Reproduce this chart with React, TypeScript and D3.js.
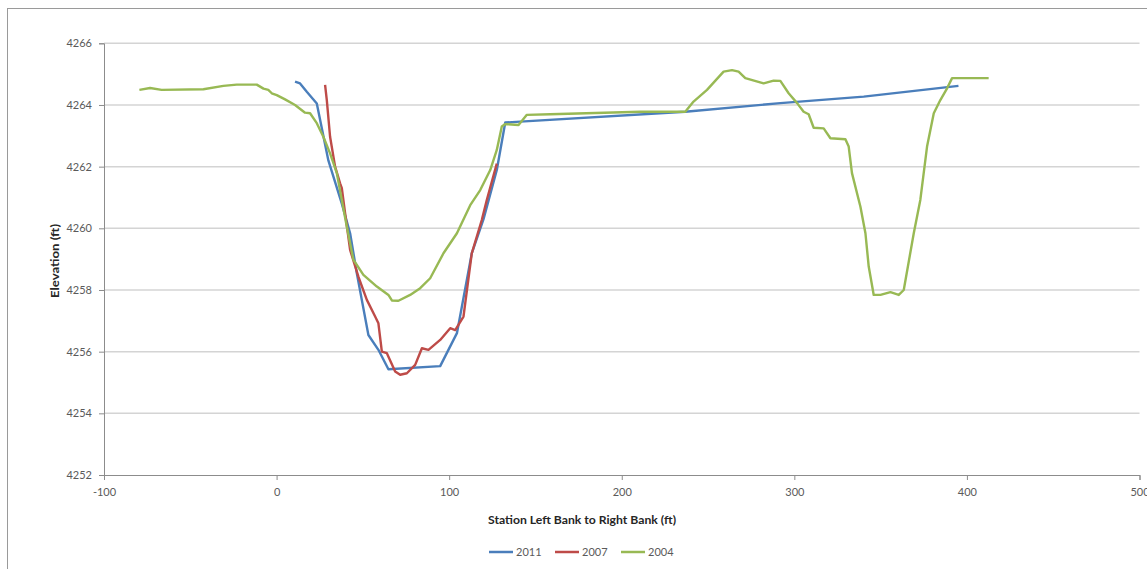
import React, { useEffect, useRef } from 'react';
import * as d3 from 'd3';

// station (ft) and elevation (ft)
const station2011 = [10.7, 13.6, 17.5, 23.3, 30.0, 37.8, 42.6, 46.5, 53.2, 59.0, 64.8, 94.8, 104.5, 113.1, 119.9, 127.6, 132.5, 141.2, 236.8, 291.9, 340.2, 395.1];
const elev2011 = [4264.76, 4264.7, 4264.43, 4264.05, 4262.2, 4260.8, 4259.84, 4258.54, 4256.54, 4256.06, 4255.43, 4255.53, 4256.6, 4259.19, 4260.3, 4261.89, 4263.43, 4263.46, 4263.78, 4264.06, 4264.27, 4264.62];

const station2007 = [28.1, 29.1, 31.0, 33.9, 36.8, 37.8, 39.7, 42.6, 47.4, 52.3, 57.1, 59.0, 61.0, 63.9, 68.7, 71.6, 75.5, 80.3, 84.2, 88.0, 94.8, 100.6, 103.5, 108.3, 113.1, 118.9, 121.8, 127.6];
const elev2007 = [4264.65, 4264.16, 4262.97, 4262.0, 4261.46, 4261.3, 4260.49, 4259.3, 4258.43, 4257.68, 4257.14, 4256.92, 4256.0, 4255.95, 4255.36, 4255.25, 4255.3, 4255.57, 4256.11, 4256.06, 4256.38, 4256.76, 4256.7, 4257.14, 4259.19, 4260.27, 4260.92, 4262.1];

const station2004 = [-79.5, -73.3, -66.6, -42.4, -30.8, -23.1, -11.5, -7.6, -4.8, -2.8, 0.1, 4.9, 10.7, 16.5, 19.4, 23.3, 27.1, 31.0, 34.9, 37.8, 40.7, 44.5, 50.3, 58.1, 64.8, 66.8, 70.6, 77.4, 83.2, 89.0, 96.7, 104.5, 112.2, 118.0, 123.8, 127.6, 130.5, 132.5, 140.2, 145.0, 158.6, 210.7, 236.8, 241.6, 249.4, 259.0, 263.9, 267.7, 271.6, 282.2, 288.0, 291.9, 296.7, 301.6, 305.4, 308.3, 311.2, 317.0, 320.9, 329.6, 331.5, 333.4, 338.3, 341.2, 343.1, 346.0, 349.9, 355.7, 360.5, 363.4, 369.2, 373.0, 376.9, 380.8, 384.6, 388.5, 391.4, 412.6];
const elev2004 = [4264.49, 4264.55, 4264.49, 4264.51, 4264.62, 4264.66, 4264.66, 4264.53, 4264.49, 4264.38, 4264.32, 4264.18, 4264.0, 4263.75, 4263.73, 4263.41, 4262.97, 4262.43, 4261.79, 4260.92, 4260.05, 4258.98, 4258.49, 4258.11, 4257.84, 4257.66, 4257.65, 4257.84, 4258.06, 4258.38, 4259.19, 4259.84, 4260.75, 4261.24, 4261.89, 4262.54, 4263.3, 4263.38, 4263.35, 4263.68, 4263.7, 4263.78, 4263.78, 4264.11, 4264.49, 4265.08, 4265.13, 4265.08, 4264.87, 4264.7, 4264.79, 4264.78, 4264.38, 4264.06, 4263.78, 4263.7, 4263.26, 4263.24, 4262.92, 4262.89, 4262.65, 4261.79, 4260.7, 4259.84, 4258.76, 4257.84, 4257.84, 4257.93, 4257.84, 4258.0, 4259.84, 4260.92, 4262.65, 4263.73, 4264.16, 4264.54, 4264.87, 4264.87];

const seriesNames = ['2011', '2007', '2004'];
const xTicks = [-100, 0, 100, 200, 300, 400, 500];
const yTicks = [4252, 4254, 4256, 4258, 4260, 4262, 4264, 4266];

const App = () => {
  const chartRef = useRef<SVGSVGElement>(null);

  useEffect(() => {
    const width = 1147;
    const height = 569;
    const left = 104;
    const right = 1139.5;
    const top = 43.3;
    const bottom = 475;
    const font = 'Lato, "Open Sans", sans-serif';

    const svg = d3.select(chartRef.current);
    svg.selectAll('*').remove();
    svg.attr('width', width).attr('height', height);

    svg.append('rect').attr('width', width).attr('height', height).attr('fill', '#fff');
    // chart area border (runs off the right and bottom edges)
    svg.append('rect')
      .attr('x', 7.5).attr('y', 8.5)
      .attr('width', 1200).attr('height', 600)
      .attr('fill', 'none').attr('stroke', '#9a9a9a').attr('stroke-width', 1);

    const x = d3.scaleLinear().domain([-100, 500]).range([left, right]);
    const y = d3.scaleLinear().domain([4252, 4266]).range([bottom, top]);

    const colors = d3.scaleOrdinal<string, string>().domain(seriesNames).range(['#4A7EBB', '#BE4B48', '#98B954']);

    // gridlines
    svg.append('g')
      .selectAll('line')
      .data(yTicks.slice(1))
      .enter()
      .append('line')
      .attr('x1', left).attr('x2', right)
      .attr('y1', d => y(d)).attr('y2', d => y(d))
      .attr('stroke', '#d4d4d4').attr('stroke-width', 1.5);

    // y axis
    const yAxis = svg.append('g')
      .attr('transform', `translate(${left},0)`)
      .call(d3.axisLeft(y).tickValues(yTicks).tickSize(5).tickPadding(7).tickFormat(d => String(d)));
    yAxis.select('.domain').attr('stroke', '#8c8c8c');
    yAxis.selectAll('.tick line').attr('stroke', '#8c8c8c');
    yAxis.selectAll('.tick text')
      .attr('font-family', font).attr('font-size', 11).attr('fill', '#5a5a5a');

    // x axis (plain hyphen for the negative label, as in the original)
    const xAxis = svg.append('g')
      .attr('transform', `translate(0,${bottom})`)
      .call(d3.axisBottom(x).tickValues(xTicks).tickSize(5).tickPadding(8).tickFormat(d => String(d)));
    xAxis.select('.domain').attr('stroke', '#8c8c8c');
    xAxis.selectAll('.tick line').attr('stroke', '#8c8c8c');
    xAxis.selectAll('.tick text')
      .attr('font-family', font).attr('font-size', 11).attr('fill', '#5a5a5a');

    // axis titles
    svg.append('text')
      .attr('x', 582).attr('y', 524)
      .attr('text-anchor', 'middle')
      .attr('font-family', font).attr('font-size', 11).attr('font-weight', 'bold')
      .attr('fill', '#262626')
      .attr('textLength', 188).attr('lengthAdjust', 'spacingAndGlyphs')
      .text('Station Left Bank to Right Bank (ft)');

    svg.append('text')
      .attr('transform', 'translate(59,261) rotate(-90)')
      .attr('text-anchor', 'middle')
      .attr('font-family', font).attr('font-size', 11).attr('font-weight', 'bold')
      .attr('fill', '#262626')
      .attr('textLength', 74).attr('lengthAdjust', 'spacingAndGlyphs')
      .text('Elevation (ft)');

    // series lines
    const series = [
      { name: '2011', pts: station2011.map((s, i) => [s, elev2011[i]]) },
      { name: '2007', pts: station2007.map((s, i) => [s, elev2007[i]]) },
      { name: '2004', pts: station2004.map((s, i) => [s, elev2004[i]]) },
    ];

    const line = d3.line<number[]>()
      .x(d => x(d[0]))
      .y(d => y(d[1]));

    svg.append('g')
      .selectAll('path')
      .data(series)
      .enter()
      .append('path')
      .attr('d', d => line(d.pts))
      .attr('fill', 'none')
      .attr('stroke', d => colors(d.name))
      .attr('stroke-width', 2.4)
      .attr('stroke-linejoin', 'round');

    // legend
    const legendX = [489, 555, 621];
    const legend = svg.append('g')
      .selectAll('g')
      .data(seriesNames)
      .enter()
      .append('g')
      .attr('transform', (d, i) => `translate(${legendX[i]},552)`);

    legend.append('line')
      .attr('x1', 0).attr('x2', 24)
      .attr('stroke', d => colors(d))
      .attr('stroke-width', 2.5);

    legend.append('text')
      .attr('x', 27).attr('dy', '0.35em')
      .attr('font-family', font).attr('font-size', 11)
      .attr('fill', '#5a5a5a')
      .text(d => d);
  }, []);

  return (
    <svg ref={chartRef} style={{ position: 'absolute', top: 0, left: 0, display: 'block' }}></svg>
  );
};

export default App;
